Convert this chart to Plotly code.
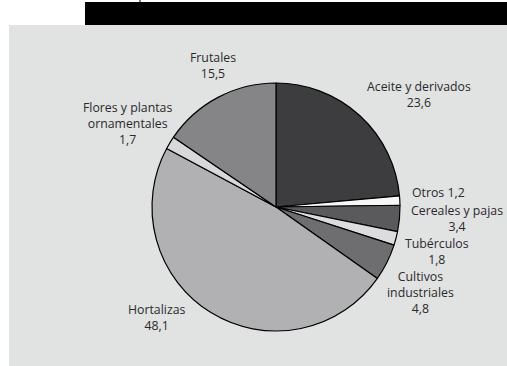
import plotly.graph_objects as go

W, H = 507, 366

categories = ["Aceite y derivados", "Otros", "Cereales y pajas", "Tubérculos",
              "Cultivos industriales", "Hortalizas", "Flores y plantas ornamentales", "Frutales"]
values = [23.6, 1.2, 3.4, 1.8, 4.8, 48.1, 1.7, 15.5]
colors = ["#3d3d3f", "#f7f7f7", "#5a5a5c", "#dcdcde", "#6e6e70", "#b1b1b3", "#d8d8da", "#858587"]

label_texts = [
    "Aceite y derivados<br>23,6",
    "Otros 1,2",
    "Cereales y pajas<br>3,4",
    "Tubérculos<br>1,8",
    "Cultivos<br>industriales<br>4,8",
    "Hortalizas<br>48,1",
    "Flores y plantas<br>ornamentales<br>1,7",
    "Frutales<br>15,5",
]
# label centres in pixels (layout only)
label_pos = [(419, 95), (438, 192), (457, 218), (437, 251), (420, 292), (157, 317), (127, 123), (213, 66)]

def px(x, y):
    return x / W, 1 - y / H

cx, cy, r = 276, 207, 124
x0, y1 = px(cx - r, cy - r)
x1, y0 = px(cx + r, cy + r)

fig = go.Figure(go.Pie(
    labels=categories, values=values, sort=False, direction="clockwise", rotation=0,
    marker=dict(colors=colors, line=dict(color="black", width=1.2)),
    textinfo="none", hoverinfo="label+value", showlegend=False,
    domain=dict(x=[x0, x1], y=[y0, y1]),
))

annotations = []
for t, (lx, ly) in zip(label_texts, label_pos):
    ax, ay = px(lx, ly)
    annotations.append(dict(text=t, x=ax, y=ay, xref="paper", yref="paper",
                            xanchor="center", yanchor="middle", showarrow=False, borderpad=0,
                            font=dict(family="Open Sans, Liberation Sans, Arial", size=12.3,
                                      color="#2a2a2a")))

shapes = [
    dict(type="rect", xref="paper", yref="paper", x0=9 / W, x1=1.05, y0=-0.05, y1=1 - 25 / H,
         fillcolor="#e1e2e2", line=dict(width=0), layer="below"),
    dict(type="rect", xref="paper", yref="paper", x0=85 / W, x1=1.05, y0=1 - 25 / H, y1=1 - 2 / H,
         fillcolor="black", line=dict(width=0), layer="below"),
    dict(type="line", xref="paper", yref="paper", x0=140 / W, x1=140 / W, y0=1 - 2 / H, y1=1,
         line=dict(color="black", width=1)),
]

fig.update_layout(width=W, height=H, margin=dict(l=0, r=0, t=0, b=0),
                  paper_bgcolor="white", plot_bgcolor="white",
                  annotations=annotations, shapes=shapes)
fig.write_html("out.html", config={"displayModeBar": False},
               post_script="document.documentElement.style.overflow='hidden';"
                           "document.body.style.margin='0';document.body.style.overflow='hidden';"
                           "var d=document.getElementById('{plot_id}');"
                           "d.style.position='fixed';d.style.left='0px';d.style.top='0px';")
